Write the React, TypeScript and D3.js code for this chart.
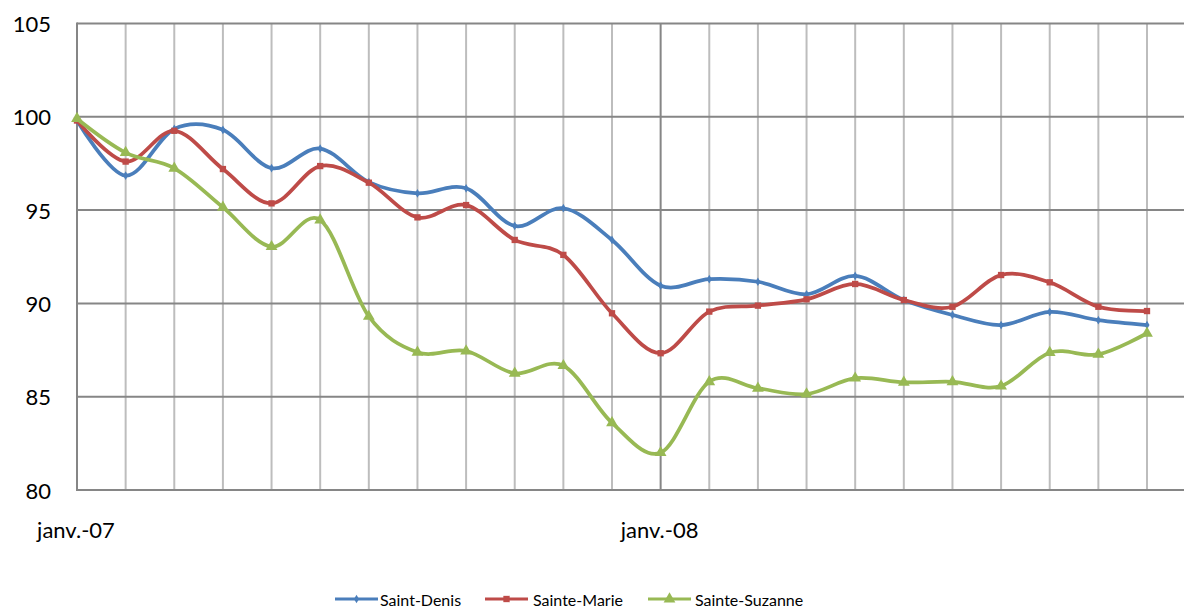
import React from "react";
import * as d3 from "d3";

const months = [
  "2007-01", "2007-02", "2007-03", "2007-04", "2007-05", "2007-06", "2007-07", "2007-08",
  "2007-09", "2007-10", "2007-11", "2007-12", "2008-01", "2008-02", "2008-03", "2008-04",
  "2008-05", "2008-06", "2008-07", "2008-08", "2008-09", "2008-10", "2008-11",
];
const xTickLabels: [string, string][] = [
  ["2007-01", "janv.-07"],
  ["2008-01", "janv.-08"],
];
const yTicks = [80, 85, 90, 95, 100, 105];

const saintDenis = [
  99.8, 96.85, 99.35, 99.3, 97.25, 98.3, 96.5, 95.9, 96.17, 94.15, 95.1, 93.4,
  90.95, 91.3, 91.16, 90.49, 91.47, 90.18, 89.38, 88.84, 89.55, 89.1, 88.84,
];
const sainteMarie = [
  99.8, 97.6, 99.25, 97.2, 95.36, 97.36, 96.47, 94.61, 95.27, 93.4, 92.6, 89.47,
  87.33, 89.56, 89.88, 90.22, 91.04, 90.18, 89.82, 91.52, 91.13, 89.82, 89.59,
];
const sainteSuzanne = [
  99.9, 98.08, 97.24, 95.15, 93.04, 94.47, 89.3, 87.38, 87.45, 86.25, 86.66, 83.6,
  82.0, 85.8, 85.45, 85.14, 85.99, 85.77, 85.8, 85.57, 87.36, 87.27, 88.4,
];

const seriesNames = ["Saint-Denis", "Sainte-Marie", "Sainte-Suzanne"];
const seriesValues = [saintDenis, sainteMarie, sainteSuzanne];
const colors = ["#4A7EBB", "#BE4B48", "#98B954"];
const symbols = [d3.symbolDiamond, d3.symbolSquare, d3.symbolTriangle];
const symbolSizes = [22, 40, 60];

const W = 1184;
const H = 608;
const left = 77;
const lastX = 1147;
const right = 1184;
const top = 23.5;
const bottom = 490;
const FONT = "Lato, 'Open Sans', sans-serif";

export default function App() {
  const x = d3.scalePoint<string>().domain(months).range([left, lastX]);
  const y = d3.scaleLinear().domain([80, 105]).range([bottom, top]);
  const line = d3
    .line<number>()
    .x((_, i) => x(months[i]) as number)
    .y((v) => y(v))
    .curve(d3.curveCatmullRom.alpha(0));

  const legendItems = [
    { lx: 335, tx: 380 },
    { lx: 485, tx: 533 },
    { lx: 648, tx: 695 },
  ];
  const legendY = 599;

  return (
    <svg
      width={W}
      height={H}
      style={{ position: "absolute", left: 0, top: 0, background: "#fff" }}
    >
      {months.map((m, i) =>
        i === 0 ? null : (
          <line
            key={"v" + m}
            x1={x(m)}
            x2={x(m)}
            y1={top}
            y2={bottom}
            stroke={m === "2008-01" ? "#868686" : "#BDBDBD"}
            strokeWidth={2}
          />
        )
      )}
      {yTicks.map((t) => (
        <line
          key={"h" + t}
          x1={left}
          x2={right}
          y1={y(t)}
          y2={y(t)}
          stroke="#868686"
          strokeWidth={2}
        />
      ))}
      <line x1={left} x2={left} y1={top - 1} y2={bottom + 1} stroke="#868686" strokeWidth={2} />
      {yTicks.map((t) => (
        <text
          key={"yl" + t}
          x={51}
          y={y(t)}
          textAnchor="end"
          dominantBaseline="central"
          fontFamily={FONT}
          fontSize={22}
          fill="#000"
        >
          {t}
        </text>
      ))}
      {xTickLabels.map(([m, lbl]) => (
        <text
          key={"xl" + m}
          x={(x(m) as number) - 1}
          y={538}
          textAnchor="middle"
          fontFamily={FONT}
          fontSize={22}
          fill="#000"
        >
          {lbl}
        </text>
      ))}
      {seriesValues.map((vals, si) => (
        <g key={"s" + si}>
          <path d={line(vals) as string} fill="none" stroke={colors[si]} strokeWidth={3.75} strokeLinejoin="round" />
          {vals.map((v, i) => (
            <path
              key={i}
              transform={`translate(${x(months[i])},${y(v)})`}
              d={d3.symbol().type(symbols[si]).size(symbolSizes[si])() as string}
              fill={colors[si]}
            />
          ))}
        </g>
      ))}
      {seriesNames.map((name, si) => (
        <g key={"lg" + si}>
          <line
            x1={legendItems[si].lx}
            x2={legendItems[si].lx + 43}
            y1={legendY}
            y2={legendY}
            stroke={colors[si]}
            strokeWidth={3}
          />
          <path
            transform={`translate(${legendItems[si].lx + 21.5},${legendY})`}
            d={d3.symbol().type(symbols[si]).size(symbolSizes[si])() as string}
            fill={colors[si]}
          />
          <text
            x={legendItems[si].tx}
            y={legendY}
            dominantBaseline="central"
            fontFamily={FONT}
            fontSize={16}
            fill="#000"
          >
            {name}
          </text>
        </g>
      ))}
    </svg>
  );
}
